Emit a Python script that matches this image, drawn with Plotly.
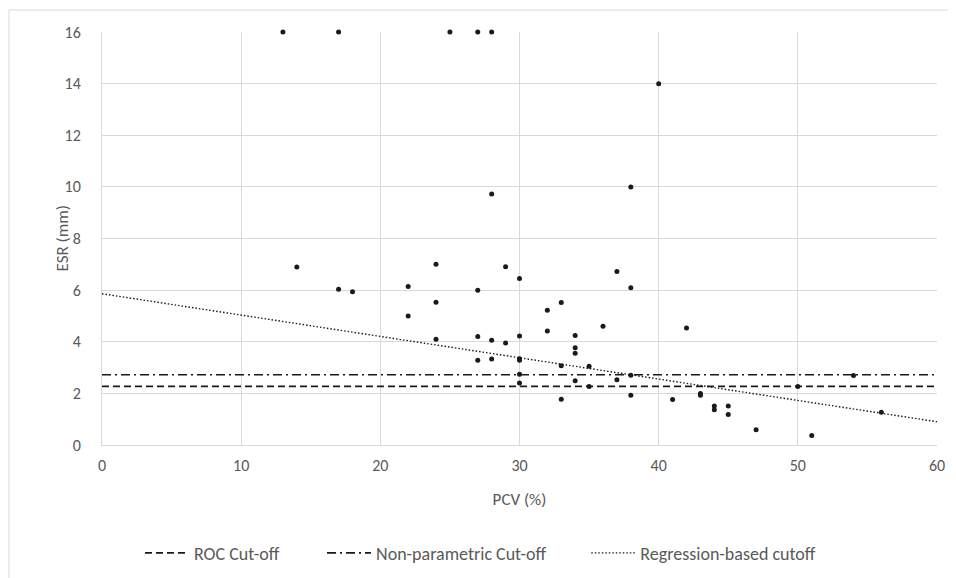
import plotly.graph_objects as go

# ---- data ----
pcv = [13, 17, 25, 27, 28,
       14, 17, 18, 22, 22, 24, 24, 24, 27, 27, 27, 28, 28, 28, 29, 29,
       30, 30, 30, 30, 30, 30, 32, 32, 33, 33, 33, 34, 34, 34, 34, 35, 35,
       36, 37, 37, 38, 38, 38, 38, 40, 41, 42, 43, 43, 44, 44, 45, 45,
       47, 50, 51, 54, 56]
esr = [16, 16, 16, 16, 16,
       6.9, 6.03, 5.94, 6.14, 5.0, 7.0, 5.53, 4.1, 6.0, 4.2, 3.28, 4.06, 3.33, 9.72, 6.91, 3.95,
       6.45, 4.22, 3.34, 3.28, 2.74, 2.40, 5.22, 4.42, 5.52, 3.07, 1.77, 4.24, 3.77, 3.55, 2.49, 3.05, 2.27,
       4.6, 6.72, 2.53, 6.09, 2.70, 1.93, 10, 14, 1.76, 4.53, 2.0, 1.93, 1.51, 1.37, 1.51, 1.18,
       0.59, 2.27, 0.37, 2.69, 1.27]

cut_x = [0, 60]
roc_cutoff = [2.27, 2.27]
nonparam_cutoff = [2.72, 2.72]
regression_cutoff = [5.86, 0.90]

x_ticks = [0, 10, 20, 30, 40, 50, 60]
y_ticks = [0, 2, 4, 6, 8, 10, 12, 14, 16]

FONT = "Calibri, Carlito, Lato, sans-serif"
GRAY = "#595959"

fig = go.Figure()
fig.add_trace(go.Scatter(x=pcv, y=esr, mode="markers", showlegend=False,
                         marker=dict(size=5, color="#1a1a1a"), cliponaxis=False))
fig.add_trace(go.Scatter(x=cut_x, y=roc_cutoff, mode="lines", name="ROC Cut-off", legend="legend",
                         line=dict(color="#1a1a1a", width=1.6, dash="7px,4px")))
fig.add_trace(go.Scatter(x=cut_x, y=nonparam_cutoff, mode="lines", name="Non-parametric Cut-off",
                         legend="legend2",
                         line=dict(color="#1a1a1a", width=1.6, dash="9px,4px,2px,4px")))
fig.add_trace(go.Scatter(x=cut_x, y=regression_cutoff, mode="lines", name="Regression-based cutoff",
                         legend="legend3",
                         line=dict(color="#1a1a1a", width=1.4, dash="1.5px,2px")))

def leg(xpos):
    return dict(orientation="h", x=xpos, xanchor="left", y=-0.262, yanchor="middle",
                font=dict(size=18, color=GRAY), itemwidth=44, bgcolor="rgba(0,0,0,0)")

fig.update_layout(
    width=956, height=578,
    margin=dict(l=94, r=27, t=24, b=141),
    paper_bgcolor="white", plot_bgcolor="white",
    font=dict(family=FONT, size=16, color=GRAY),
    legend=leg(0.0455), legend2=leg(0.2635), legend3=leg(0.580),
    shapes=[dict(type="rect", xref="paper", yref="paper",
                 x0=-0.1114, x1=1.05, y0=-0.36, y1=1.0533,
                 line=dict(color="#d9d9d9", width=1), fillcolor="rgba(0,0,0,0)", layer="below")],
    annotations=[dict(text="ESR (mm)", xref="paper", yref="paper", x=-0.0479, y=0.5,
                      xanchor="center", yanchor="middle", textangle=-90, showarrow=False,
                      font=dict(size=17, color=GRAY))],
)
fig.update_xaxes(range=[0, 60], tickvals=x_ticks, showgrid=True, gridcolor="#d9d9d9", gridwidth=1,
                 zeroline=False, showline=True, linecolor="#d9d9d9", linewidth=1, ticks="",
                 ticklabelstandoff=6,
                 title=dict(text="PCV (%)", font=dict(size=17, color=GRAY), standoff=18),
                 tickfont=dict(size=16, color=GRAY), mirror=False)
fig.update_yaxes(range=[0, 16], tickvals=y_ticks, showgrid=True, gridcolor="#d9d9d9", gridwidth=1,
                 zeroline=False, showline=True, linecolor="#d9d9d9", linewidth=1, ticks="",
                 ticklabelstandoff=17,
                 tickfont=dict(size=16, color=GRAY))

fig.write_html("out.html")
